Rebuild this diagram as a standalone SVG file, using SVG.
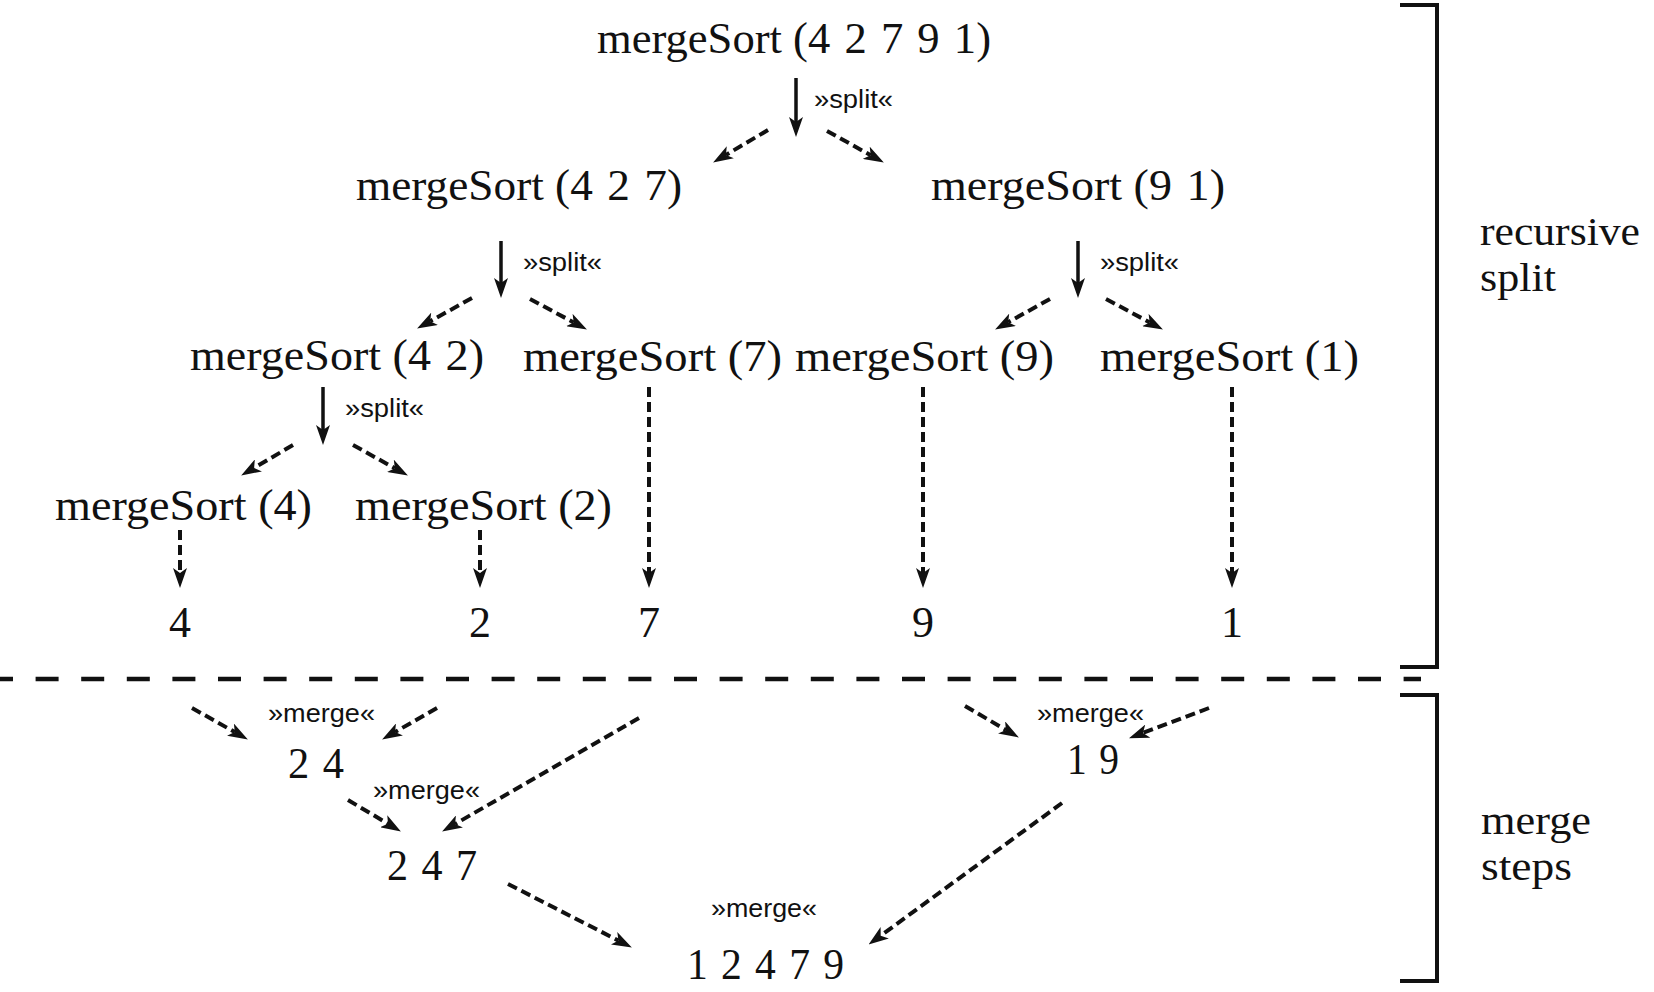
<svg xmlns="http://www.w3.org/2000/svg" width="1654" height="992" viewBox="0 0 1654 992">
<style>
.t{font-family:"Liberation Serif","Times New Roman",serif;font-size:44px;fill:#111}
.w{word-spacing:3px}
.r{font-family:"Liberation Serif","Times New Roman",serif;font-size:40px;fill:#111}
.l{font-family:"Liberation Sans",Arial,sans-serif;font-size:25px;fill:#111}
.s{stroke:#111;stroke-width:3.5;fill:none}
.d{stroke:#111;stroke-width:4;fill:none;stroke-dasharray:10 5}
.b{stroke:#111;stroke-width:4;fill:none}
</style>
<defs>
<marker id="ah" viewBox="0 0 20 14" markerWidth="20" markerHeight="14" refX="5" refY="7" orient="auto" markerUnits="userSpaceOnUse">
<path d="M0,0 L20,7 L0,14 L5,7 Z" fill="#111"/>
</marker>
</defs>
<rect width="1654" height="992" fill="#fff"/>

<g id="n-root"><text class="t" x="597" y="53" textLength="394" lengthAdjust="spacingAndGlyphs">mergeSort (<tspan class="w">4 2 7 9 1</tspan>)</text></g>
<g id="n-427"><text class="t" x="356" y="200" textLength="326" lengthAdjust="spacingAndGlyphs">mergeSort (<tspan class="w">4 2 7</tspan>)</text></g>
<g id="n-91"><text class="t" x="931" y="200" textLength="294" lengthAdjust="spacingAndGlyphs">mergeSort (<tspan class="w">9 1</tspan>)</text></g>
<g id="n-42"><text class="t" x="190" y="370" textLength="294" lengthAdjust="spacingAndGlyphs">mergeSort (<tspan class="w">4 2</tspan>)</text></g>
<g id="n-7"><text class="t" x="523" y="371" textLength="259" lengthAdjust="spacingAndGlyphs">mergeSort (7)</text></g>
<g id="n-9"><text class="t" x="795" y="371" textLength="259" lengthAdjust="spacingAndGlyphs">mergeSort (9)</text></g>
<g id="n-1"><text class="t" x="1100" y="371" textLength="259" lengthAdjust="spacingAndGlyphs">mergeSort (1)</text></g>
<g id="n-4s"><text class="t" x="55" y="520" textLength="257" lengthAdjust="spacingAndGlyphs">mergeSort (4)</text></g>
<g id="n-2s"><text class="t" x="355" y="520" textLength="257" lengthAdjust="spacingAndGlyphs">mergeSort (2)</text></g>

<g id="v-4"><text class="t" x="180" y="637" text-anchor="middle">4</text></g>
<g id="v-2"><text class="t" x="480" y="637" text-anchor="middle">2</text></g>
<g id="v-7"><text class="t" x="649" y="637" text-anchor="middle">7</text></g>
<g id="v-9"><text class="t" x="923" y="637" text-anchor="middle">9</text></g>
<g id="v-1"><text class="t" x="1232" y="637" text-anchor="middle">1</text></g>

<g id="m-24"><text class="t w" x="288" y="778" textLength="56" lengthAdjust="spacingAndGlyphs">2 4</text></g>
<g id="m-247"><text class="t w" x="387" y="880" textLength="90" lengthAdjust="spacingAndGlyphs">2 4 7</text></g>
<g id="m-19"><text class="t w" x="1067" y="774" textLength="52" lengthAdjust="spacingAndGlyphs">1 9</text></g>
<g id="m-12479"><text class="t w" x="687" y="979" textLength="157" lengthAdjust="spacingAndGlyphs">1 2 4 7 9</text></g>

<g id="labels">
<text class="l" x="814" y="108" textLength="79" lengthAdjust="spacingAndGlyphs">»split«</text>
<text class="l" x="523" y="271" textLength="79" lengthAdjust="spacingAndGlyphs">»split«</text>
<text class="l" x="1100" y="271" textLength="79" lengthAdjust="spacingAndGlyphs">»split«</text>
<text class="l" x="345" y="417" textLength="79" lengthAdjust="spacingAndGlyphs">»split«</text>
<text class="l" x="268" y="722" textLength="107" lengthAdjust="spacingAndGlyphs">»merge«</text>
<text class="l" x="373" y="799" textLength="107" lengthAdjust="spacingAndGlyphs">»merge«</text>
<text class="l" x="1037" y="722" textLength="107" lengthAdjust="spacingAndGlyphs">»merge«</text>
<text class="l" x="711" y="917" textLength="106" lengthAdjust="spacingAndGlyphs">»merge«</text>
</g>

<g id="connectors">
<line class="s" x1="796" y1="78" x2="796" y2="122" marker-end="url(#ah)"/>
<line class="s" x1="501" y1="241" x2="501" y2="283" marker-end="url(#ah)"/>
<line class="s" x1="1078" y1="241" x2="1078" y2="283" marker-end="url(#ah)"/>
<line class="s" x1="323" y1="387" x2="323" y2="430" marker-end="url(#ah)"/>

<line class="d" x1="768" y1="130" x2="726" y2="154.9" marker-end="url(#ah)"/>
<line class="d" x1="827" y1="131" x2="870.7" y2="155.2" marker-end="url(#ah)"/>
<line class="d" x1="472" y1="298" x2="430.2" y2="321.2" marker-end="url(#ah)"/>
<line class="d" x1="530" y1="299" x2="573.7" y2="322.4" marker-end="url(#ah)"/>
<line class="d" x1="1050" y1="299" x2="1008.2" y2="322.2" marker-end="url(#ah)"/>
<line class="d" x1="1106" y1="299" x2="1149.7" y2="322.4" marker-end="url(#ah)"/>
<line class="d" x1="293" y1="445" x2="254.1" y2="467.9" marker-end="url(#ah)"/>
<line class="d" x1="353" y1="445" x2="394.8" y2="468.2" marker-end="url(#ah)"/>

<line class="d" x1="180" y1="530" x2="180" y2="573" marker-end="url(#ah)"/>
<line class="d" x1="480" y1="530" x2="480" y2="573" marker-end="url(#ah)"/>
<line class="d" x1="649" y1="387" x2="649" y2="573" marker-end="url(#ah)"/>
<line class="d" x1="923" y1="387" x2="923" y2="573" marker-end="url(#ah)"/>
<line class="d" x1="1232" y1="387" x2="1232" y2="573" marker-end="url(#ah)"/>

<line class="d" x1="192" y1="708" x2="234.8" y2="732.1" marker-end="url(#ah)"/>
<line class="d" x1="437" y1="708" x2="395.1" y2="732" marker-end="url(#ah)"/>
<line class="d" x1="348" y1="800" x2="388" y2="823.8" marker-end="url(#ah)"/>
<line class="d" x1="639" y1="718" x2="455.1" y2="824" marker-end="url(#ah)"/>
<line class="d" x1="508" y1="884" x2="618.5" y2="940.6" marker-end="url(#ah)"/>
<line class="d" x1="965" y1="706" x2="1005.9" y2="729.9" marker-end="url(#ah)"/>
<line class="d" x1="1209" y1="708" x2="1143" y2="732.9" marker-end="url(#ah)"/>
<line class="d" x1="1062" y1="803" x2="880.7" y2="935.7" marker-end="url(#ah)"/>
</g>

<g id="separator">
<line x1="0" y1="679" x2="1421" y2="679" stroke="#111" stroke-width="4.5" stroke-dasharray="23 22.6" stroke-dashoffset="10"/>
</g>

<g id="bracket-split">
<path class="b" d="M1400,5 H1437 V667 H1400"/>
<text class="r" x="1480" y="245" textLength="160" lengthAdjust="spacingAndGlyphs">recursive</text>
<text class="r" x="1480" y="291" textLength="76" lengthAdjust="spacingAndGlyphs">split</text>
</g>
<g id="bracket-merge">
<path class="b" d="M1400,695 H1437 V981 H1400"/>
<text class="r" x="1481" y="834" textLength="110" lengthAdjust="spacingAndGlyphs">merge</text>
<text class="r" x="1481" y="880" textLength="91" lengthAdjust="spacingAndGlyphs">steps</text>
</g>
</svg>
